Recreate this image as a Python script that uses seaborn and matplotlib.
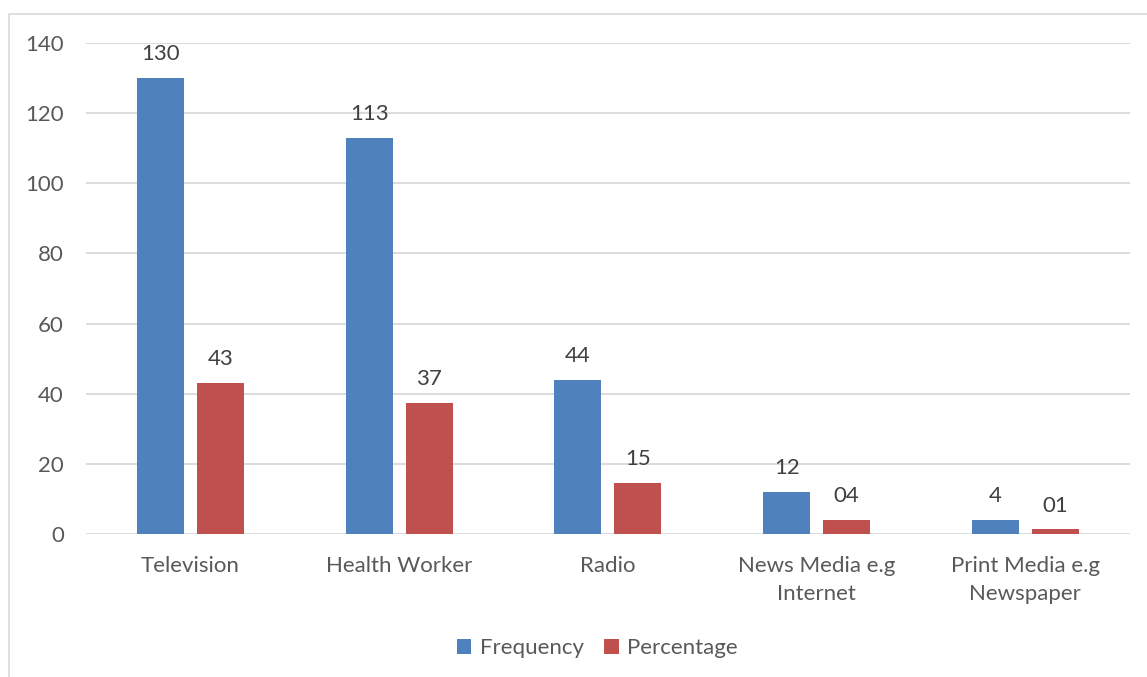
import matplotlib
matplotlib.use("Agg")
import matplotlib.pyplot as plt
import seaborn as sns
import pandas as pd
from matplotlib.patches import Rectangle

categories = ["Television", "Health Worker", "Radio", "News Media e.g\nInternet", "Print Media e.g\nNewspaper"]
frequency = [130, 113, 44, 12, 4]
percentage = [43.0, 37.3, 14.6, 4.0, 1.3]
freq_labels = ["130", "113", "44", "12", "4"]
perc_labels = ["43", "37", "15", "04", "01"]
yticks = [0, 20, 40, 60, 80, 100, 120, 140]

sns.set_theme(style="white")
plt.rcParams['font.family'] = ['Lato', 'DejaVu Sans']

df = pd.DataFrame({
    "Category": categories * 2,
    "Value": frequency + percentage,
    "Series": ["Frequency"] * len(categories) + ["Percentage"] * len(categories),
})

fig = plt.figure(figsize=(11.47, 6.77), dpi=100)
ax = fig.add_axes([0.075, 0.2112, 0.91, 0.7253])

sns.barplot(data=df, x="Category", y="Value", hue="Series",
            palette={"Frequency": "#4f81bd", "Percentage": "#c0504d"},
            width=0.574, gap=0.216, ax=ax, legend=True, saturation=1,
            edgecolor="none", linewidth=0)

txt = "#404040"
for cont, labs in zip(ax.containers, [freq_labels, perc_labels]):
    ax.bar_label(cont, labels=labs, padding=10, fontsize=16, color=txt)

ax.set_ylim(0, 140)
ax.set_xlim(-0.5, 4.5)
ax.set_yticks(yticks)
ax.set_yticklabels([str(v) for v in yticks], fontsize=16, color="#595959")
ax.tick_params(axis='x', labelsize=16, colors="#595959", pad=16, length=0)
ax.tick_params(axis='y', pad=16, length=0)
for lab in ax.get_xticklabels():
    lab.set_linespacing(1.5)
ax.grid(axis='y', color="#d9d9d9", linewidth=1.3)
ax.set_axisbelow(True)
for s in ax.spines.values():
    s.set_visible(False)
ax.set_xlabel("")
ax.set_ylabel("")

leg = ax.legend(loc="center", bbox_to_anchor=(0.49, -0.232), bbox_transform=ax.transAxes,
                ncol=2, frameon=False, fontsize=16, handlelength=0.65, handleheight=0.65,
                columnspacing=0.9, handletextpad=0.4)
for t in leg.get_texts():
    t.set_color("#595959")

fig.patches.append(Rectangle((9/1147, -0.01), 1.02, 1 - 14/677 + 0.01,
                             transform=fig.transFigure, fill=False,
                             edgecolor="#d9d9d9", linewidth=1.2))

fig.savefig("out.png", dpi=100)
